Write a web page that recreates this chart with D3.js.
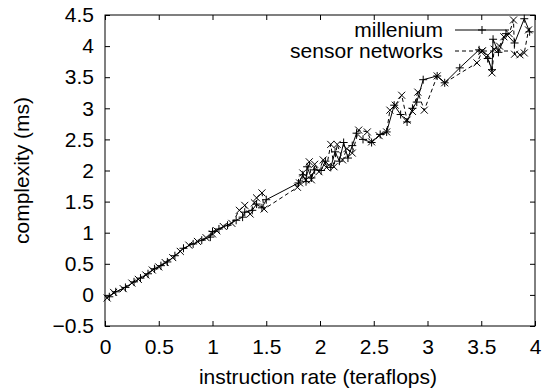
<!DOCTYPE html>
<html>
<head>
<meta charset="utf-8">
<script src="https://cdn.jsdelivr.net/npm/d3@7"></script>
<style>
  html, body { margin: 0; padding: 0; background: #fff; }
  svg { display: block; font-family: "Liberation Sans", Arial, sans-serif; }
</style>
</head>
<body>
<div id="chart"></div>
<script>
// series: millenium (solid, +) and sensor networks (dashed, x)
const milleniumX = [0.04, 0.10, 0.19, 0.27, 0.33, 0.40, 0.46, 0.52, 0.58, 0.65, 0.73, 0.82, 0.90, 0.98, 1.00, 1.06, 1.14, 1.22, 1.28, 1.30, 1.37, 1.41, 1.46, 1.50, 1.80, 1.84, 1.87, 1.88, 1.92, 1.95, 2.01, 2.05, 2.10, 2.14, 2.18, 2.22, 2.26, 2.30, 2.34, 2.40, 2.48, 2.56, 2.62, 2.69, 2.75, 2.81, 2.86, 2.90, 2.96, 3.09, 3.16, 3.30, 3.48, 3.56, 3.60, 3.61, 3.66, 3.73, 3.81, 3.90, 3.95];
const milleniumY = [-0.03, 0.05, 0.12, 0.21, 0.27, 0.34, 0.42, 0.47, 0.53, 0.63, 0.75, 0.82, 0.88, 0.93, 1.02, 1.06, 1.12, 1.20, 1.25, 1.33, 1.36, 1.46, 1.40, 1.53, 1.80, 1.93, 1.82, 2.06, 1.88, 2.01, 2.00, 2.15, 2.05, 2.30, 2.15, 2.45, 2.20, 2.40, 2.60, 2.50, 2.45, 2.58, 2.62, 3.05, 2.90, 2.78, 3.00, 3.10, 3.46, 3.52, 3.41, 3.65, 3.94, 3.80, 3.62, 4.11, 3.90, 4.20, 4.05, 4.44, 4.23];

const sensorX = [0.02, 0.08, 0.17, 0.25, 0.31, 0.38, 0.44, 0.50, 0.56, 0.63, 0.70, 0.78, 0.86, 0.94, 1.00, 1.04, 1.10, 1.18, 1.25, 1.30, 1.35, 1.39, 1.41, 1.46, 1.48, 1.79, 1.81, 1.84, 1.87, 1.90, 1.92, 1.95, 1.99, 2.03, 2.06, 2.10, 2.13, 2.16, 2.21, 2.25, 2.30, 2.36, 2.44, 2.48, 2.55, 2.62, 2.65, 2.70, 2.76, 2.81, 2.86, 2.91, 2.97, 3.09, 3.16, 3.46, 3.51, 3.56, 3.60, 3.62, 3.67, 3.71, 3.76, 3.80, 3.81, 3.86, 3.90, 3.94];
const sensorY = [-0.05, 0.04, 0.10, 0.19, 0.25, 0.32, 0.40, 0.45, 0.52, 0.60, 0.70, 0.80, 0.86, 0.92, 0.98, 1.03, 1.10, 1.15, 1.36, 1.44, 1.30, 1.48, 1.56, 1.64, 1.38, 1.73, 1.80, 1.96, 1.85, 2.14, 1.85, 2.10, 1.98, 2.17, 2.05, 2.42, 2.06, 2.42, 2.17, 2.35, 2.28, 2.65, 2.62, 2.46, 2.56, 2.62, 2.97, 3.05, 3.21, 2.81, 2.95, 3.26, 2.97, 3.52, 3.41, 3.73, 3.92, 3.85, 3.57, 3.95, 4.00, 4.15, 4.20, 4.42, 3.87, 3.86, 3.89, 4.26];

const xTicks = [0, 0.5, 1, 1.5, 2, 2.5, 3, 3.5, 4];
const yTicks = [-0.5, 0, 0.5, 1, 1.5, 2, 2.5, 3, 3.5, 4, 4.5];
const seriesNames = ['millenium', 'sensor networks'];

const width = 547, height = 389;
const margin = { top: 15, right: 12, bottom: 63, left: 105 };
const plotW = width - margin.left - margin.right;
const plotH = height - margin.top - margin.bottom;
const tickLen = 5;
const fontSize = 21;

const x = d3.scaleLinear().domain([0, 4]).range([0, plotW]);
const y = d3.scaleLinear().domain([-0.5, 4.5]).range([plotH, 0]);

const svg = d3.select('#chart').append('svg')
    .attr('width', width)
    .attr('height', height);

const g = svg.append('g')
    .attr('transform', `translate(${margin.left},${margin.top})`);

// ticks inward on all four sides, labels only bottom/left
const axisB = g.append('g')
    .attr('transform', `translate(0,${plotH})`)
    .call(d3.axisBottom(x).tickValues(xTicks).tickSize(-tickLen).tickPadding(13).tickFormat(d3.format('')));
const axisT = g.append('g')
    .call(d3.axisTop(x).tickValues(xTicks).tickSize(-tickLen).tickFormat(''));
const axisL = g.append('g')
    .call(d3.axisLeft(y).tickValues(yTicks).tickSize(-tickLen).tickPadding(11).tickFormat(d3.format('')));
const axisR = g.append('g')
    .attr('transform', `translate(${plotW},0)`)
    .call(d3.axisRight(y).tickValues(yTicks).tickSize(-tickLen).tickFormat(''));

[axisB, axisT, axisL, axisR].forEach(a => {
    a.select('.domain').remove();
    a.selectAll('line').attr('stroke', '#000');
    a.selectAll('text')
        .attr('fill', '#000')
        .style('font-size', fontSize + 'px')
        .style('font-family', '"Liberation Sans", Arial, sans-serif');
});

g.append('rect')
    .attr('width', plotW)
    .attr('height', plotH)
    .attr('fill', 'none')
    .attr('stroke', '#000')
    .attr('stroke-width', 1);

// axis titles
svg.append('text')
    .attr('x', margin.left + plotW / 2 - 2)
    .attr('y', height - 5)
    .attr('text-anchor', 'middle')
    .style('font-size', fontSize + 'px')
    .text('instruction rate (teraflops)');

svg.append('text')
    .attr('transform', `translate(29,${margin.top + plotH / 2}) rotate(-90)`)
    .attr('text-anchor', 'middle')
    .style('font-size', fontSize + 'px')
    .text('complexity (ms)');

const line = d3.line().x(d => x(d[0])).y(d => y(d[1]));

const milleniumData = milleniumX.map((v, i) => [v, milleniumY[i]]);
const sensorData = sensorX.map((v, i) => [v, sensorY[i]]);

const plusPath = s => `M${-s},0H${s}M0,${-s}V${s}`;
const crossPath = s => `M${-s},${-s}L${s},${s}M${-s},${s}L${s},${-s}`;

const series = [
    { data: milleniumData, dash: null, marker: plusPath(4) },
    { data: sensorData, dash: '4,3', marker: crossPath(3.5) }
];

series.forEach(s => {
    g.append('path')
        .datum(s.data)
        .attr('fill', 'none')
        .attr('stroke', '#000')
        .attr('stroke-width', 1)
        .attr('stroke-dasharray', s.dash)
        .attr('d', line);
    g.append('g')
        .selectAll('path')
        .data(s.data)
        .join('path')
        .attr('transform', d => `translate(${x(d[0])},${y(d[1])})`)
        .attr('d', s.marker)
        .attr('fill', 'none')
        .attr('stroke', '#000')
        .attr('stroke-width', 1);
});

// legend (gnuplot style, top right inside)
const legend = svg.append('g');
seriesNames.forEach((name, i) => {
    const ly = 30 + i * 21;
    legend.append('text')
        .attr('x', 443)
        .attr('y', ly)
        .attr('dy', '0.35em')
        .attr('text-anchor', 'end')
        .style('font-size', fontSize + 'px')
        .text(name);
    legend.append('line')
        .attr('x1', 455).attr('x2', 509)
        .attr('y1', ly).attr('y2', ly)
        .attr('stroke', '#000')
        .attr('stroke-dasharray', series[i].dash);
    legend.append('path')
        .attr('transform', `translate(482,${ly})`)
        .attr('d', series[i].marker)
        .attr('fill', 'none')
        .attr('stroke', '#000');
});
</script>
</body>
</html>
